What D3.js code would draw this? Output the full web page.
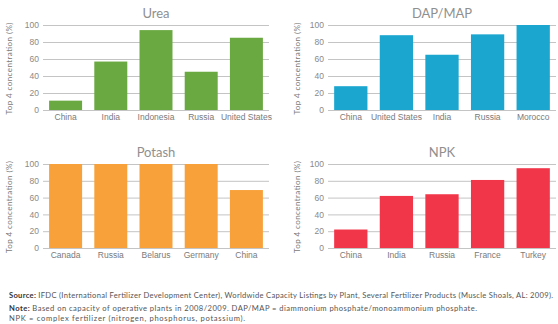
<!DOCTYPE html>
<html>
<head>
<meta charset="utf-8">
<script src="https://cdn.jsdelivr.net/npm/d3@7"></script>
<style>
  body { margin: 0; background: #fff; }
  svg { font-family: Lato, "Open Sans", sans-serif; }
  .grid line { stroke: #c4c4c4; stroke-width: 1px; }
  .grid text { fill: #8a8a8a; font-size: 8.5px; }
  .x-axis text { fill: #7a7a7a; font-size: 8.5px; }
  .plot-title { fill: #8f8f8f; font-size: 13px; text-anchor: middle; }
  .y-label { fill: #7a7a7a; font-size: 8px; text-anchor: middle; }
  .foot { fill: #555; font-size: 7.6px; }
</style>
</head>
<body>
<svg id="chart"></svg>
<script>
// Top 4 concentration (%) by product
const ureaCountries = ['China', 'India', 'Indonesia', 'Russia', 'United States'];
const ureaValues = [11, 57, 94, 45, 85];
const dapCountries = ['China', 'United States', 'India', 'Russia', 'Morocco'];
const dapValues = [28, 88, 65, 89, 100];
const potashCountries = ['Canada', 'Russia', 'Belarus', 'Germany', 'China'];
const potashValues = [100, 100, 100, 100, 69];
const npkCountries = ['China', 'India', 'Russia', 'France', 'Turkey'];
const npkValues = [22, 62, 64, 81, 95];
const yTicks = [0, 20, 40, 60, 80, 100];

const width = 558, height = 324;
const svg = d3.select('#chart')
    .attr('width', width)
    .attr('height', height);

const panels = [
    { title: 'Urea', countries: ureaCountries, values: ureaValues, color: '#6aa842', x0: 43, x1: 269, top: 25, bottom: 110, labelX: 12 },
    { title: 'DAP/MAP', countries: dapCountries, values: dapValues, color: '#1aa6cf', x0: 328, x1: 556, top: 25, bottom: 110, labelX: 300 },
    { title: 'Potash', countries: potashCountries, values: potashValues, color: '#f8a13a', x0: 43, x1: 269, top: 164, bottom: 248, labelX: 12 },
    { title: 'NPK', countries: npkCountries, values: npkValues, color: '#f2364a', x0: 328, x1: 556, top: 164, bottom: 248, labelX: 300 }
];

panels.forEach(p => {
    const xScale = d3.scaleBand()
        .domain(p.countries)
        .range([p.x0, p.x1])
        .paddingInner(0.27)
        .paddingOuter(0.135);

    const yScale = d3.scaleLinear()
        .domain([0, 100])
        .range([p.bottom, p.top]);

    // gridlines + tick labels
    const grid = svg.append('g')
        .attr('class', 'grid')
        .attr('transform', `translate(${p.x0}, 0)`)
        .call(d3.axisLeft(yScale).tickValues(yTicks).tickSize(-(p.x1 - p.x0)).tickPadding(4));
    grid.select('.domain').remove();

    // bars
    svg.append('g').selectAll('rect')
        .data(p.countries.map((c, i) => ({ country: c, value: p.values[i] })))
        .join('rect')
        .attr('x', d => xScale(d.country))
        .attr('y', d => yScale(d.value))
        .attr('width', xScale.bandwidth())
        .attr('height', d => yScale(0) - yScale(d.value))
        .attr('fill', p.color);

    // category labels
    const xAxis = svg.append('g')
        .attr('class', 'x-axis')
        .attr('transform', `translate(0, ${p.bottom})`)
        .call(d3.axisBottom(xScale).tickSize(0).tickPadding(4));
    xAxis.select('.domain').remove();

    svg.append('text')
        .attr('class', 'plot-title')
        .attr('x', (p.x0 + p.x1) / 2)
        .attr('y', p.top - 7)
        .text(p.title);

    svg.append('text')
        .attr('class', 'y-label')
        .attr('transform', `translate(${p.labelX}, ${(p.top + p.bottom) / 2 + 1}) rotate(-90)`)
        .attr('textLength', 92)
        .attr('lengthAdjust', 'spacing')
        .text('Top 4 concentration (%)');
});

// footer notes
const foot = svg.append('g').attr('class', 'foot');
const src = foot.append('text').attr('x', 9).attr('y', 298)
    .attr('textLength', 544).attr('lengthAdjust', 'spacing');
src.append('tspan').attr('font-weight', 'bold').attr('fill', '#333').text('Source: ');
src.append('tspan').text('IFDC (International Fertilizer Development Center), Worldwide Capacity Listings by Plant, Several Fertilizer Products (Muscle Shoals, AL: 2009).');

const note = foot.append('text').attr('x', 9).attr('y', 311)
    .attr('textLength', 468).attr('lengthAdjust', 'spacing');
note.append('tspan').attr('font-weight', 'bold').attr('fill', '#333').text('Note: ');
note.append('tspan').text('Based on capacity of operative plants in 2008/2009. DAP/MAP = diammonium phosphate/monoammonium phosphate.');

foot.append('text').attr('x', 9).attr('y', 321)
    .attr('textLength', 236).attr('lengthAdjust', 'spacing')
    .text('NPK = complex fertilizer (nitrogen, phosphorus, potassium).');
</script>
</body>
</html>
